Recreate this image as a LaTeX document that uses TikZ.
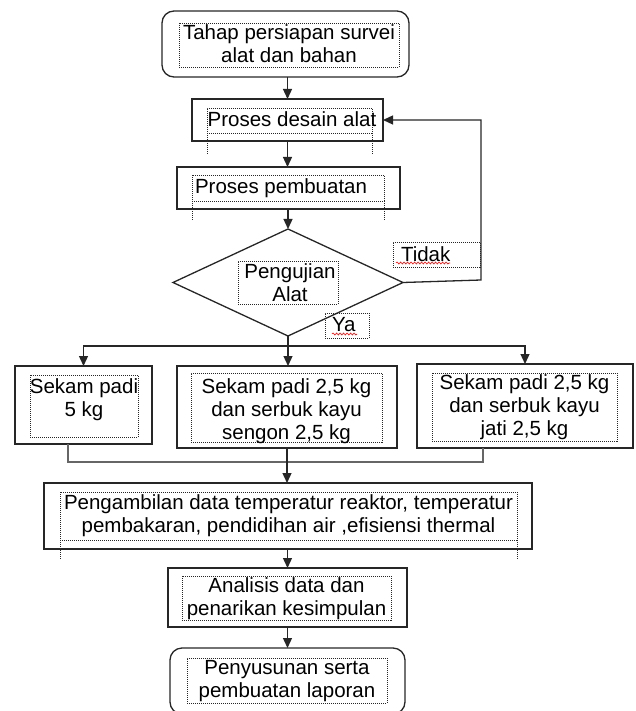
\documentclass[tikz,border=0pt]{standalone}
\usepackage{fontspec}
\setmainfont{Liberation Sans}
\usetikzlibrary{arrows.meta,shapes.geometric,decorations.pathmorphing,calc}
\begin{document}
\begin{tikzpicture}[x=1pt,y=-1pt,
  every node/.style={font=\fontsize{20.5}{23}\selectfont, inner sep=0pt, outer sep=0pt},
  box/.style={draw=black!85, line width=1.3pt, rectangle},
  rbox/.style={box, rounded corners=12pt},
  frame/.style={draw=black!85, dash pattern=on 1pt off 1pt, line width=0.9pt, rectangle},
  dotline/.style={draw=black!85, dash pattern=on 1pt off 1pt, line width=0.9pt},
  txt/.style={align=center, text=black},
  arr/.style={line width=1.3pt, draw=black!85, -{Triangle[width=9pt,length=10pt]}},
  ln/.style={line width=1.3pt, draw=black!85},
  merge/.style={line width=1.6pt, draw=black!60},
  squig/.style={draw=red, line width=0.6pt, decorate, decoration={snake,amplitude=1pt,segment length=3.5pt}}
]
\useasboundingbox (0,0) rectangle (635,711);
\clip (0,0) rectangle (635,711);

% main boxes
\node[rbox, minimum width=247pt, minimum height=66pt] (start) at (285.5,44) {};
\node[box, minimum width=191pt, minimum height=42pt] (desain) at (287.5,120) {};
\node[box, minimum width=223pt, minimum height=42pt] (buat) at (288.5,188) {};
\node[draw=black!85, line width=1.3pt, diamond, minimum width=230pt, minimum height=107pt] (dia) at (288,282.5) {};
\node[box, minimum width=137pt, minimum height=78pt] (b1) at (83.5,405) {};
\node[box, minimum width=220pt, minimum height=82pt] (b2) at (287,407) {};
\node[box, minimum width=216pt, minimum height=84pt] (b3) at (525,406) {};
\node[box, minimum width=488pt, minimum height=66pt] (data) at (288,516) {};
\node[box, minimum width=239pt, minimum height=59pt] (anal) at (287.5,597.5) {};
\node[rbox, minimum width=235pt, minimum height=66pt] (final) at (287.5,681) {};

% dotted text frames
\node[frame, minimum width=220pt, minimum height=44pt] (fstart) at (289,45) {};
\node[frame, minimum width=165pt, minimum height=25pt] (fdesain) at (289.5,120.5) {};
\draw[dotline] (fdesain.south west) -- ++(0,21);
\draw[dotline] (fdesain.south east) -- ++(0,21);
\node[frame, minimum width=192pt, minimum height=26pt] (fbuat) at (288,188) {};
\draw[dotline] (fbuat.south west) -- ++(0,19);
\draw[dotline] (fbuat.south east) -- ++(0,19);
\node[frame, minimum width=100pt, minimum height=43pt] (fdia) at (288,282.5) {};
\node[frame, minimum width=87pt, minimum height=25pt] (ftidak) at (436.5,254.5) {};
\node[frame, minimum width=44pt, minimum height=25pt] (fya) at (347,325.5) {};
\node[frame, minimum width=108pt, minimum height=62pt] (fb1) at (84,406) {};
\node[frame, minimum width=191pt, minimum height=69pt] (fb2) at (286.5,407.5) {};
\node[frame, minimum width=185pt, minimum height=68pt] (fb3) at (524.5,407) {};
\node[frame, minimum width=457pt, minimum height=48pt] (fdata) at (288.5,516) {};
\draw[dotline] (fdata.south west) -- ++(0,20);
\draw[dotline] (fdata.south east) -- ++(0,20);
\node[frame, minimum width=209pt, minimum height=44pt] (fanal) at (286.5,598) {};
\node[frame, minimum width=200pt, minimum height=45pt] (ffinal) at (287,680.5) {};

% texts
\node[txt] (tstart) at (289,44) {Tahap persiapan survei\\alat dan bahan};
\node[txt] (tdesain) at (292,119) {Proses desain alat};
\node[txt, anchor=west] (tbuat) at (195,188) {Proses pembuatan};
\node[txt] (tdia) at (290,283) {Pengujian\\Alat};
\node[txt, anchor=west] (ttidak) at (401,254) {Tidak};
\node[txt, anchor=west] (tya) at (332,325) {Ya};
\node[txt] (tb1) at (84,399.5) {Sekam padi\\5 kg};
\node[txt] (tb2) at (286.5,411.5) {Sekam padi 2,5 kg\\dan serbuk kayu\\sengon 2,5 kg};
\node[txt] (tb3) at (524.5,407.5) {Sekam padi 2,5 kg\\dan serbuk kayu\\jati 2,5 kg};
\node[txt] (tdata) at (288.5,516) {Pengambilan data temperatur reaktor, temperatur\\pembakaran, pendidihan air ,efisiensi thermal};
\node[txt] (tanal) at (286.5,598.5) {Analisis data dan\\penarikan kesimpulan};
\node[txt] (tfinal) at (287,681) {Penyusunan serta\\pembuatan laporan};

% spell-check squiggles
\draw[squig] (396,263) -- (450,263);
\draw[squig] (332,334) -- (357,334);

% connectors
\draw[arr] (start.south -| desain.north) -- (desain.north);
\draw[arr] (desain.south) -- (desain.south |- buat.north);
\draw[arr] (buat.south -| dia.north) -- (dia.north);
\coordinate (split) at (288,346);
\draw[ln] (dia.south) -- (split);
\draw[arr] (split) -- (split |- b2.north);
\draw[arr] (split) -| (b1.north);
\draw[arr] (split) -| (b3.north);
\coordinate (fb) at (481,280);
\draw[arr] (dia.east) -- (fb) |- (desain.east);
\coordinate (m1) at (68,462);
\coordinate (m2) at (483,462);
\draw[merge] (b1.south -| m1) -- (m1) -- (m2) -- (b3.south -| m2);
\draw[arr] (b2.south) -- (b2.south |- data.north);
\draw[arr] (data.south -| anal.north) -- (anal.north);
\draw[arr] (anal.south) -- (anal.south |- final.north);
\end{tikzpicture}
\end{document}
